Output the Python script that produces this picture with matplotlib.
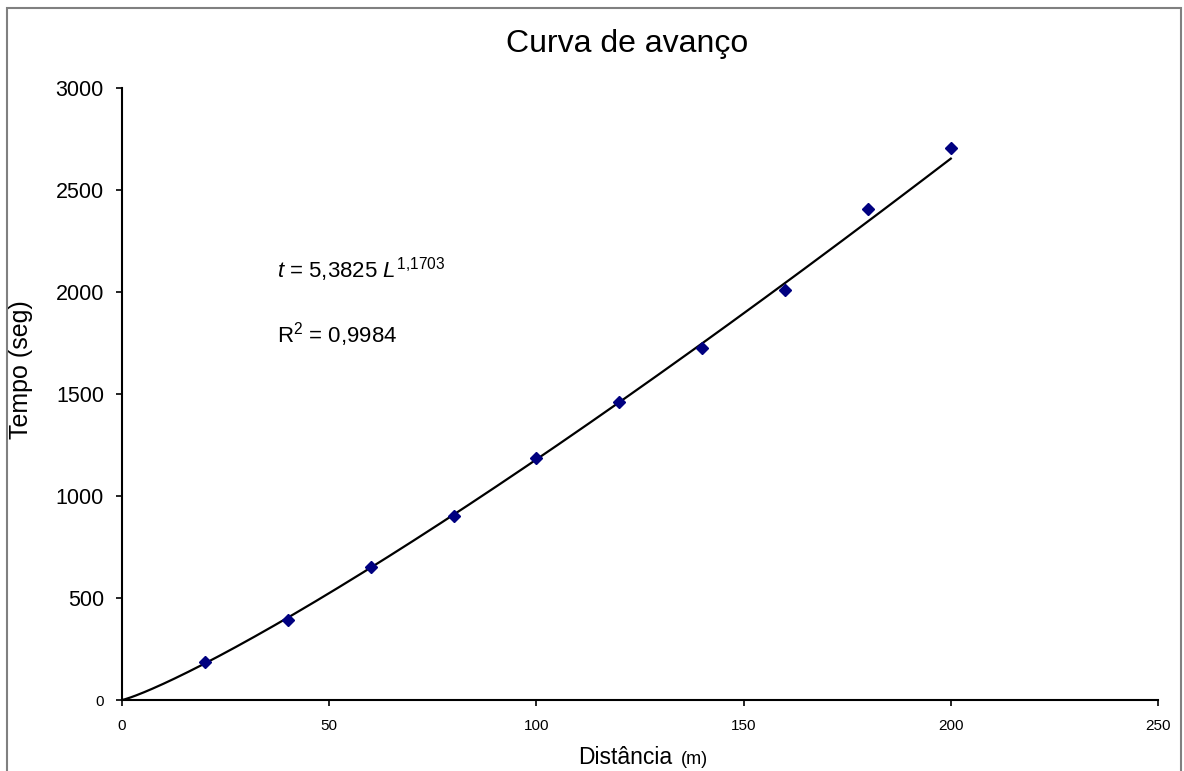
import numpy as np
import matplotlib
matplotlib.use("Agg")
import matplotlib.pyplot as plt
from matplotlib.patches import Rectangle

plt.rcParams["font.family"] = ["Liberation Sans", "DejaVu Sans"]
plt.rcParams["mathtext.fontset"] = "custom"
plt.rcParams["mathtext.rm"] = "Liberation Sans"
plt.rcParams["mathtext.it"] = "Liberation Sans:italic"

# advance test: distance (m) vs time (s)
distancia = [20, 40, 60, 80, 100, 120, 140, 160, 180, 200]
tempo = [188, 392, 650, 903, 1188, 1462, 1724, 2011, 2405, 2707]

# power trend line t = a * L^b
coef_a = 5.3825
coef_b = 1.1703
r2 = 0.9984

x_ticks = [0, 50, 100, 150, 200, 250]
y_ticks = [0, 500, 1000, 1500, 2000, 2500, 3000]

W, H = 1184, 771
fig = plt.figure(figsize=(W / 100, H / 100), dpi=100)
ax = fig.add_axes([122 / W, 1 - 700 / H, (1158 - 122) / W, (700 - 88) / H])

L = np.linspace(0, max(distancia), 300)
ax.plot(L, coef_a * L ** coef_b, color="black", lw=1.6, zorder=2)
ax.plot(distancia, tempo, "D", color="#000080", markersize=6, zorder=3)

ax.set_xlim(0, 250)
ax.set_ylim(0, 3000)
ax.set_xticks(x_ticks)
ax.set_yticks(y_ticks)
for s in ["top", "right"]:
    ax.spines[s].set_visible(False)
for s in ["left", "bottom"]:
    ax.spines[s].set_linewidth(1.5)
ax.tick_params(direction="out", length=4, width=1.2, pad=8)
ax.tick_params(axis="x", labelsize=11, pad=10)
ax.tick_params(axis="y", labelsize=15.5, pad=9)
ax.get_yticklabels()[0].set_fontsize(11)

ax.text(37.5, 2073, r"$t$ = 5,3825 $L^{1{,}1703}$", fontsize=16, va="baseline")
ax.text(37.5, 1754, r"R$^2$ = 0,9984", fontsize=16, va="baseline")

fig.text(627 / W, 1 - 44 / H, "Curva de avanço", fontsize=23,
         ha="center", va="center")
fig.text(21 / W, 1 - 370 / H, "Tempo (seg)", fontsize=18, rotation=90,
         ha="center", va="center")
fig.text(672 / W, 1 - 764 / H, "Distância", fontsize=16.5, ha="right",
         va="baseline")
fig.text(681 / W, 1 - 764 / H, "(m)", fontsize=13, ha="left", va="baseline")

# outer chart frame
fig.patches.append(Rectangle((7 / W, -0.05), (1181 - 7) / W, 1.05 - 8 / H,
                             transform=fig.transFigure, fill=False,
                             edgecolor="#808080", lw=1.5))

fig.savefig("out.png", dpi=100)
